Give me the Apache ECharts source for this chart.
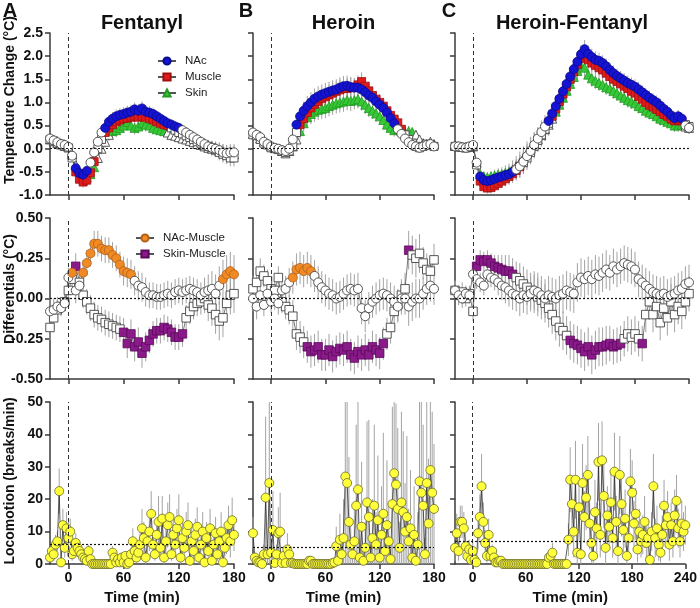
<!DOCTYPE html>
<html><head><meta charset="utf-8">
<script src="https://cdn.jsdelivr.net/npm/echarts/dist/echarts.min.js"></script>
<style>html,body{margin:0;padding:0;background:#fff}#c{width:700px;height:608px}</style>
</head><body><div id="c"></div>
<script>
// ---------- layout labels ----------
const panelTitles = ['Fentanyl', 'Heroin', 'Heroin-Fentanyl'];
const panelLetters = ['A', 'B', 'C'];
const rowNames = ['Temperature Change (°C)', 'Differentials (°C)', 'Locomotion (breaks/min)'];
const xMaxes = [180, 180, 240];
const xTicksAB = [0, 60, 120, 180];
const xTicksC = [0, 60, 120, 180, 240];
const tStart = -20;
const tempStep = 4;
const locoStep = 2;
const locoBaseline = [6.2, 5.3, 7.1];

// ---------- Temperature change (°C), every 4 min from -20 ----------
const tempA_NAc = [0.22,0.18,0.14,0.10,0.08, 0.04,-0.15,-0.42,-0.53,-0.56, -0.48,-0.30,-0.08,0.15,0.35, 0.45,0.58,0.65,0.70,0.73,
  0.75,0.78,0.80,0.85,0.82, 0.87,0.80,0.78,0.75,0.70, 0.65,0.60,0.55,0.52,0.48, 0.45,0.40,0.35,0.30,0.25,
  0.20,0.15,0.10,0.05,0.02, 0.00,-0.03,-0.08,-0.10,-0.08, -0.08];
const tempA_Muscle = [0.20,0.17,0.12,0.10,0.06, 0.02,-0.20,-0.50,-0.66,-0.72, -0.68,-0.52,-0.28,0.00,0.20, 0.35,0.45,0.52,0.58,0.62,
  0.65,0.66,0.68,0.70,0.68, 0.70,0.68,0.65,0.62,0.58, 0.55,0.52,0.50,0.45,0.40, 0.35,0.32,0.28,0.24,0.20,
  0.15,0.12,0.08,0.05,0.02, -0.02,-0.08,-0.12,-0.15,-0.20, -0.20];
const tempA_Skin = [0.20,0.16,0.12,0.09,0.06, 0.03,-0.12,-0.35,-0.50,-0.60, -0.62,-0.55,-0.40,-0.20,0.00, 0.15,0.30,0.38,0.40,0.45,
  0.50,0.58,0.50,0.45,0.48, 0.55,0.52,0.50,0.45,0.42, 0.40,0.38,0.35,0.30,0.28, 0.25,0.22,0.20,0.17,0.14,
  0.10,0.08,0.05,0.02,0.00, -0.02,-0.05,-0.08,-0.10,-0.12, -0.12];
const tempA_SEM = [0.08,0.08,0.07,0.07,0.06, 0.05,0.08,0.10,0.12,0.12, 0.12,0.12,0.12,0.12,0.12, 0.13,0.14,0.14,0.15,0.15,
  0.15,0.15,0.15,0.15,0.15, 0.15,0.15,0.14,0.14,0.13, 0.13,0.12,0.12,0.12,0.12, 0.12,0.12,0.12,0.12,0.12,
  0.12,0.12,0.13,0.14,0.15, 0.16,0.17,0.18,0.18,0.18, 0.18];
const sigA_NAc = [[8, 20], [40, 120]];
const sigA_Muscle = [[8, 28], [40, 108]];
const sigA_Skin = [[20, 28], [48, 104]];

const tempB_NAc = [0.35,0.30,0.25,0.15,0.10, 0.05,0.02,0.00,-0.03,-0.05, 0.00,0.20,0.52,0.70,0.82, 0.92,1.00,1.08,1.13,1.17,
  1.20,1.23,1.26,1.28,1.32, 1.35,1.36,1.33,1.32,1.32, 1.28,1.22,1.15,1.10,1.02, 0.95,0.88,0.78,0.66,0.55,
  0.42,0.32,0.22,0.14,0.08, 0.05,0.02,0.05,0.08,0.10, 0.05];
const tempB_Muscle = [0.30,0.28,0.20,0.12,0.08, 0.02,0.00,-0.02,-0.05,-0.08, -0.05,0.05,0.35,0.52,0.65, 0.78,0.88,0.96,1.02,1.08,
  1.12,1.16,1.20,1.24,1.27, 1.30,1.30,1.32,1.33,1.38, 1.45,1.35,1.25,1.15,1.07, 1.00,0.92,0.82,0.72,0.64,
  0.56,0.42,0.30,0.20,0.12, 0.05,0.02,0.05,0.10,0.08, 0.05];
const tempB_Skin = [0.32,0.30,0.22,0.15,0.10, 0.05,0.02,0.00,-0.05,-0.10, -0.05,0.05,0.20,0.38,0.55, 0.68,0.75,0.80,0.84,0.86,
  0.88,0.92,0.95,0.98,1.00, 1.02,1.05,1.03,1.05,1.07, 1.02,0.95,0.88,0.82,0.76, 0.70,0.62,0.52,0.45,0.40,
  0.42,0.38,0.36,0.38,0.36, 0.30,0.20,0.12,0.10,0.15, 0.10];
const tempB_SEM = [0.10,0.10,0.09,0.08,0.08, 0.07,0.07,0.07,0.08,0.08, 0.08,0.10,0.14,0.18,0.20, 0.22,0.22,0.22,0.22,0.22,
  0.22,0.22,0.22,0.22,0.22, 0.22,0.22,0.22,0.20,0.20, 0.20,0.20,0.20,0.18,0.18, 0.18,0.18,0.16,0.15,0.14,
  0.13,0.12,0.12,0.11,0.10, 0.10,0.09,0.09,0.09,0.09, 0.09];
const sigB_NAc = [[28, 136]];
const sigB_Muscle = [[32, 144]];
const sigB_Skin = [[32, 156]];

const tempC_NAc = [0.05,0.05,0.03,0.02,0.05, 0.08,-0.30,-0.60,-0.68,-0.70, -0.68,-0.65,-0.62,-0.60,-0.57, -0.55,-0.50,-0.45,-0.38,-0.28,
  -0.16,-0.05,0.08,0.22,0.36, 0.48,0.60,0.76,0.92,1.08, 1.24,1.40,1.56,1.72,1.88, 2.04,2.15,2.05,1.98,1.92,
  1.90,1.85,1.78,1.70,1.63, 1.57,1.52,1.47,1.42,1.38, 1.34,1.28,1.22,1.16,1.10, 1.05,1.00,0.93,0.86,0.80,
  0.72,0.66,0.70,0.65,0.50, 0.45];
const tempC_Muscle = [0.05,0.04,0.03,0.02,0.04, 0.05,-0.35,-0.70,-0.82,-0.85, -0.84,-0.80,-0.75,-0.70,-0.65, -0.60,-0.54,-0.47,-0.39,-0.30,
  -0.20,-0.08,0.05,0.18,0.30, 0.42,0.55,0.70,0.86,1.02, 1.18,1.34,1.50,1.66,1.82, 1.95,2.02,1.92,1.85,1.80,
  1.75,1.70,1.63,1.56,1.50, 1.45,1.40,1.35,1.30,1.24, 1.20,1.13,1.07,1.00,0.94, 0.90,0.85,0.80,0.74,0.70,
  0.64,0.60,0.62,0.60,0.52, 0.48];
const tempC_Skin = [0.06,0.05,0.04,0.03,0.04, 0.05,-0.30,-0.55,-0.60,-0.62, -0.60,-0.58,-0.56,-0.55,-0.52, -0.50,-0.45,-0.38,-0.30,-0.20,
  -0.10,0.00,0.10,0.20,0.30, 0.42,0.52,0.65,0.80,0.95, 1.10,1.25,1.40,1.55,1.68, 1.80,1.75,1.60,1.52,1.47,
  1.42,1.38,1.33,1.30,1.25, 1.20,1.15,1.10,1.05,1.02, 0.98,0.92,0.88,0.82,0.78, 0.75,0.70,0.65,0.62,0.58,
  0.55,0.50,0.50,0.52,0.48, 0.45];
const tempC_SEM = [0.06,0.06,0.06,0.05,0.05, 0.06,0.10,0.12,0.12,0.12, 0.12,0.13,0.14,0.15,0.16, 0.18,0.20,0.22,0.24,0.25,
  0.26,0.26,0.26,0.25,0.25, 0.25,0.24,0.24,0.23,0.22, 0.22,0.22,0.20,0.20,0.20, 0.20,0.20,0.18,0.18,0.18,
  0.17,0.17,0.17,0.17,0.17, 0.16,0.16,0.16,0.16,0.16, 0.16,0.16,0.15,0.15,0.15, 0.15,0.15,0.15,0.14,0.14,
  0.14,0.14,0.14,0.14,0.13, 0.13];
const sigC_NAc = [[8, 44], [84, 232]];
const sigC_Muscle = [[8, 52], [88, 232]];
const sigC_Skin = [[8, 40], [92, 232]];

// ---------- Differentials (°C), every 4 min from -20 ----------
const diffA_NAcM = [-0.08,-0.07,-0.05,-0.06,-0.03, 0.13,0.16,0.05,0.08,0.16, 0.22,0.28,0.34,0.34,0.31, 0.30,0.30,0.27,0.25,0.21,
  0.17,0.16,0.15,0.11,0.08, 0.07,0.04,0.02,0.02,0.01, 0.01,0.02,0.03,0.02,0.04, 0.05,0.04,0.05,0.06,0.05,
  0.04,0.02,0.04,0.05,0.06, 0.03,0.08,0.12,0.15,0.17, 0.15];
const diffA_SkinM = [-0.18,-0.12,-0.07,-0.05,-0.02, 0.05,0.12,0.20,0.10,0.02, -0.02,-0.06,-0.10,-0.12,-0.13, -0.15,-0.16,-0.17,-0.18,-0.19,
  -0.21,-0.28,-0.22,-0.30,-0.27, -0.34,-0.30,-0.26,-0.22,-0.20, -0.20,-0.18,-0.19,-0.21,-0.24, -0.24,-0.22,-0.12,-0.08,-0.05,
  -0.03,-0.02,0.00,-0.04,-0.06, -0.10,-0.14,-0.12,-0.03,0.02, 0.03];
const diffA_SEM = [0.08,0.07,0.06,0.05,0.05, 0.06,0.07,0.08,0.08,0.08, 0.08,0.08,0.08,0.08,0.08, 0.08,0.08,0.08,0.08,0.08,
  0.09,0.09,0.09,0.09,0.09, 0.09,0.09,0.08,0.08,0.08, 0.08,0.08,0.08,0.08,0.08, 0.08,0.08,0.08,0.08,0.08,
  0.08,0.08,0.09,0.10,0.11, 0.12,0.12,0.12,0.12,0.12, 0.12];
const sigA_NAcM = [[4, 4], [16, 68], [168, 180]];
const sigA_SkinM = [[8, 8], [60, 124]];

const diffB_NAcM = [0.00,-0.05,0.02,-0.04,0.03, -0.02,0.00,-0.03,0.05,0.06, 0.10,0.13,0.18,0.19,0.17, 0.19,0.17,0.14,0.10,0.07,
  0.05,0.03,0.02,0.00,0.01, 0.03,0.05,0.06,0.05,0.06, -0.06,-0.11,-0.06,-0.02,0.00, 0.02,0.03,0.02,0.00,-0.02,
  -0.05,0.00,0.00,-0.05,-0.02, 0.00,0.00,0.03,0.06,0.08, 0.06];
const diffB_SkinM = [0.06,0.10,0.17,0.14,0.11, 0.06,0.05,0.13,-0.02,-0.05, -0.07,-0.11,-0.22,-0.24,-0.27, -0.30,-0.33,-0.32,-0.30,-0.35,
  -0.35,-0.32,-0.36,-0.33,-0.31, -0.32,-0.30,-0.35,-0.37,-0.33, -0.35,-0.32,-0.35,-0.30,-0.32, -0.34,-0.28,-0.22,-0.18,-0.08,
  -0.04,0.02,0.06,0.30,0.27, 0.25,0.28,0.22,0.18,0.17, 0.24];
const diffB_SEM = [0.08,0.08,0.08,0.07,0.07, 0.07,0.07,0.07,0.07,0.08, 0.09,0.10,0.10,0.10,0.10, 0.10,0.10,0.10,0.10,0.10,
  0.10,0.10,0.10,0.10,0.10, 0.10,0.10,0.10,0.10,0.10, 0.10,0.10,0.10,0.10,0.10, 0.10,0.10,0.10,0.10,0.10,
  0.10,0.10,0.10,0.12,0.12, 0.12,0.12,0.10,0.10,0.10, 0.10];
const sigB_NAcM = [[24, 44]];
const sigB_SkinM = [[40, 124], [152, 152]];

const diffC_NAcM = [0.05,0.02,0.00,0.03,0.02, 0.15,0.12,0.10,0.08,0.15, 0.13,0.12,0.10,0.08,0.07, 0.05,0.03,0.02,0.00,0.02,
  0.01,0.03,0.05,0.04,0.02, 0.00,0.02,0.01,0.00,0.02, 0.03,0.05,0.04,0.03,0.10, 0.13,0.12,0.14,0.12,0.15,
  0.14,0.16,0.18,0.16,0.20, 0.18,0.20,0.22,0.21,0.20, 0.18,0.12,0.10,0.08,0.06, 0.04,0.03,0.02,0.03,0.01,
  0.02,0.03,0.05,0.06,0.09, 0.10];
const diffC_SkinM = [0.05,0.02,0.04,0.00,0.03, -0.08,0.20,0.24,0.23,0.24, 0.22,0.20,0.19,0.18,0.17, 0.17,0.15,0.13,0.11,0.09,
  0.07,0.05,0.03,0.01,-0.01, -0.03,-0.06,-0.10,-0.14,-0.18, -0.20,-0.23,-0.26,-0.28,-0.29, -0.31,-0.33,-0.30,-0.35,-0.32,
  -0.30,-0.30,-0.29,-0.28,-0.30, -0.29,-0.28,-0.25,-0.22,-0.24, -0.22,-0.25,-0.28,-0.10,-0.02, -0.10,-0.05,-0.15,-0.06,-0.12,
  -0.02,-0.10,-0.05,-0.08,-0.02, 0.03];
const diffC_SEM = [0.06,0.06,0.06,0.05,0.05, 0.06,0.06,0.06,0.06,0.06, 0.06,0.07,0.08,0.09,0.10, 0.10,0.10,0.10,0.11,0.11,
  0.11,0.11,0.12,0.12,0.12, 0.12,0.12,0.12,0.12,0.12, 0.12,0.12,0.12,0.12,0.12, 0.12,0.12,0.12,0.12,0.12,
  0.12,0.12,0.12,0.11,0.11, 0.11,0.11,0.11,0.11,0.11, 0.11,0.11,0.11,0.11,0.11, 0.11,0.11,0.11,0.11,0.11,
  0.11,0.11,0.11,0.11,0.11, 0.11];
const sigC_NAcM = [];
const sigC_SkinM = [[4, 44], [108, 164], [188, 188]];

// ---------- Locomotion (breaks/min), every 2 min from -20 ----------
const locoA = [2,4,3,6,7,22.5,0.5,12,5,11,
  8,10,3,4,6.5,5,4,3,2,1.5,
  1,4,1.5,0,0,0,0,0,0,0,
  0,0,0,0,3.5,2,0.5,1.5,0.5,2,
  0.5,2.5,0,0.5,3,7,4,2,3.5,6,
  11,8,2,7,10,15.5,6,3,9,13,
  5,14,2,7,12,14.5,3,9,6,11,
  13.5,2,8,5,10,12,1,7,4,9,
  11.5,2,6,10,0.5,8,4,11,1,6,
  9.5,3,7,10,0.5,5,8,12,7,13.5,
  9];
const locoA_SEM = [1.5,2,2,3,3,7,1,5,3,5,
  5,4,2,2,3,2,2,2,1,1,
  1,2,1,0,0,0,0,0,0,0,
  0,0,0,0,2,1,0.5,1,0.5,1,
  0.5,1.5,0,0.5,2,4,2,1.5,2,4,
  6,5,2,4,6,7,4,2,5,8,
  4,7,2,5,7,7,2,6,4,6,
  8,2,5,3,6,7,1,5,3,5,
  6,2,4,6,0.5,5,3,6,1,4,
  5,2,4,6,0.5,3,5,6,5,7,
  5];
const locoB = [9.5,2,1,0.5,0.5,0,3,20.5,3,25,
  3.5,10.5,0.3,3,9.5,10,0.3,2.5,0.3,4.5,
  3,0.3,0.3,0,0,0,0,0,0,0,
  0,1,1,0,0,0,0,0,0,0,
  0,0,0,0,0.3,0.5,5.5,1,7.5,3,
  8,27,25,13,6,3,7,18,23,2,
  11.5,1,5,19,14.5,2,8,18,6,13.5,
  2,9,15.5,4,12,7,1.5,18.5,28,24.5,
  17,5,19,16,10,14.5,7,11,2,9,
  1,6,25.5,22,18,3,25,12.5,29,22,
  17];
const locoB_SEM = [5,1,1,1,1,0,3,25,3,30,
  3,12,0.5,3,8,12,0.5,3,0.5,5,
  3,0.5,0.5,0,0,0,0,0,0,0,
  0,1,1,0,0,0,0,0,0,0,
  0,0,0,0,0.5,0.5,6,1,8,4,
  12,30,25,20,8,5,10,25,28,3,
  20,2,8,25,30,4,12,25,10,20,
  4,15,25,6,20,12,3,30,30,25,
  25,8,28,25,15,25,10,18,4,15,
  2,10,30,28,25,5,30,20,30,25,
  20];
const locoC = [5,9.5,4,13,13,11,5.5,2.4,4.5,1.3,
  4,1.3,0.5,9.5,14.5,24,13,6.5,2.5,9,
  2.5,4,2,0.5,0.5,1,1,0,0,0,
  0,0,0,0,0,0,0,0,0,0,
  0,0,0,0,0,0,0,0,0,0,
  0,0,0,2,2.5,3.5,0,0,0,0,
  0,0,0,0,7.5,26,18.5,10,26,3.5,
  17.5,3,25,14.5,20.5,27.5,12.5,6.5,2.5,16,
  11,31.5,9,32,21,5,15,11.5,19,8,
  28.5,13,4,27.5,18.5,10.5,14,2.5,8,25.5,
  22,12.5,15.5,4.5,10,7,9,13,6.5,8,
  1.3,10,24,8,11,6,3.5,9,18,12,
  14.5,6,12,7,15,19.5,11,7,12.5,10,
  12];
const locoC_SEM = [4,6,3,5,5,5,4,2,3,1,
  3,1,0.5,5,7,10,6,4,2,5,
  2,2,1.5,0.5,0.5,1,1,0,0,0,
  0,0,0,0,0,0,0,0,0,0,
  0,0,0,0,0,0,0,0,0,0,
  0,0,0,1.5,2,3,0,0,0,0,
  0,0,0,0,5,10,8,8,12,4,
  8,4,12,8,10,12,8,6,3,10,
  8,12,7,12,10,5,9,7,10,6,
  12,8,4,12,10,7,9,3,6,10,
  10,7,8,4,7,5,6,8,5,6,
  2,6,10,6,7,5,3,6,8,7,
  8,5,7,5,8,8,6,5,7,6,
  6];

// ---------- styles ----------
const FONT = 'Liberation Sans, Arial, Helvetica, sans-serif';
const C_NAc = '#1414d2', C_Mus = '#e01b1b', C_Skin = '#36c836';
const C_NAcM = '#f08a24', C_SkinM = '#8a1a8a', C_Loco = '#ffff3a';
const cols = [{ left: 50, width: 184 }, { left: 253, width: 181 }, { left: 455, width: 234 }];
const rows = [{ top: 33, height: 162 }, { top: 218, height: 161 }, { top: 402, height: 162 }];
const yCfg = [
  { min: -1, max: 2.5, interval: 0.5, fmt: v => v.toFixed(1) },
  { min: -0.5, max: 0.5, interval: 0.25, fmt: v => v.toFixed(2) },
  { min: 0, max: 50, interval: 10, fmt: v => String(v) }
];

function times(n, step) { const a = []; for (let i = 0; i < n; i++) a.push(tStart + i * step); return a; }
function inRanges(t, r) { return r.some(([a, b]) => t >= a && t <= b); }

function errRender(params, api) {
  const t = api.value(0), v = api.value(1), e = api.value(2);
  if (!e) return null;
  const p1 = api.coord([t, v - e]), p2 = api.coord([t, v + e]);
  const cs = params.coordSys;
  const clamp = y => Math.min(Math.max(y, cs.y), cs.y + cs.height);
  return { type: 'line', silent: true,
    shape: { x1: p1[0], y1: clamp(p1[1]), x2: p1[0], y2: clamp(p2[1]) },
    style: { stroke: '#a3a3a3', lineWidth: 1 } };
}
function errSeries(gi, vals, sems, step, extra) {
  const ts = times(vals.length, step);
  return Object.assign({ type: 'custom', xAxisIndex: gi, yAxisIndex: gi, silent: true, animation: false, z: 1,
    renderItem: errRender, encode: { x: 0, y: 1 },
    data: ts.map((t, i) => [t, vals[i], sems[i]]) }, extra || {});
}
function refMark(yRef) {
  return { markLine: { silent: true, animation: false, symbol: ['none', 'none'], label: { show: false },
    data: [
      { xAxis: 0, lineStyle: { type: [4, 3], color: '#333', width: 1 } },
      { yAxis: yRef, lineStyle: { type: [2, 2], color: '#111', width: 1.2 } }
    ] } };
}
function markerSeries(name, gi, vals, step, ranges, color, border, symbol, size) {
  const ts = times(vals.length, step);
  return { type: 'line', name, xAxisIndex: gi, yAxisIndex: gi, symbol, symbolSize: size,
    showSymbol: true, showAllSymbol: true, animation: false, silent: true, z: 3,
    lineStyle: { color: '#555', width: 0.8 },
    itemStyle: { color, borderColor: border, borderWidth: 0.8 },
    data: ts.map((t, i) => ({ value: [t, vals[i]],
      itemStyle: inRanges(t, ranges) ? { color, borderColor: border, borderWidth: 0.8 }
                                     : { color: '#fff', borderColor: '#444', borderWidth: 0.9 } })) };
}
function locoSeries(gi, vals) {
  const ts = times(vals.length, locoStep);
  return { type: 'line', name: 'Locomotion', xAxisIndex: gi, yAxisIndex: gi, symbol: 'circle', symbolSize: 9,
    showSymbol: true, showAllSymbol: true, animation: false, silent: true, z: 3,
    lineStyle: { color: '#1a1a1a', width: 0.7 },
    itemStyle: { color: C_Loco, borderColor: '#6a6a30', borderWidth: 0.8 },
    data: ts.map((t, i) => [t, vals[i]]) };
}

const grids = [], xAxes = [], yAxes = [], series = [];
for (let r = 0; r < 3; r++) {
  for (let c = 0; c < 3; c++) {
    const gi = r * 3 + c;
    grids.push({ left: cols[c].left, width: cols[c].width, top: rows[r].top, height: rows[r].height });
    const ticks = c === 2 ? xTicksC : xTicksAB;
    xAxes.push({ type: 'value', gridIndex: gi, min: tStart, max: xMaxes[c],
      axisLine: { onZero: false, lineStyle: { color: '#3a3a3a', width: 1.5 } },
      axisTick: { show: true, customValues: ticks, length: 5, lineStyle: { color: '#3a3a3a', width: 1.5 } },
      axisLabel: { show: r === 2, customValues: ticks, margin: 7, fontFamily: FONT, fontWeight: 'bold', fontSize: 14, color: '#111' },
      splitLine: { show: false },
      name: r === 2 ? 'Time (min)' : '', nameLocation: 'middle', nameGap: 26,
      nameTextStyle: { fontFamily: FONT, fontWeight: 'bold', fontSize: 15, color: '#111' } });
    const y = yCfg[r];
    yAxes.push({ type: 'value', gridIndex: gi, min: y.min, max: y.max, interval: y.interval,
      axisLine: { show: true, onZero: false, lineStyle: { color: '#3a3a3a', width: 1.5 } },
      axisTick: { show: true, length: 5, lineStyle: { color: '#3a3a3a', width: 1.5 } },
      axisLabel: { show: c === 0, margin: 7, formatter: y.fmt, fontFamily: FONT, fontWeight: 'bold', fontSize: 14, color: '#111' },
      splitLine: { show: false } });
  }
}

// Row 0: temperatures
const tempSets = [
  [tempA_NAc, tempA_Muscle, tempA_Skin, tempA_SEM, sigA_NAc, sigA_Muscle, sigA_Skin],
  [tempB_NAc, tempB_Muscle, tempB_Skin, tempB_SEM, sigB_NAc, sigB_Muscle, sigB_Skin],
  [tempC_NAc, tempC_Muscle, tempC_Skin, tempC_SEM, sigC_NAc, sigC_Muscle, sigC_Skin]
];
tempSets.forEach((s, c) => {
  const gi = c;
  series.push(errSeries(gi, s[2], s[3], tempStep, refMark(0)));
  series.push(errSeries(gi, s[1], s[3], tempStep));
  series.push(errSeries(gi, s[0], s[3], tempStep));
  series.push(markerSeries('Skin', gi, s[2], tempStep, s[6], C_Skin, '#229922', 'triangle', 9));
  series.push(markerSeries('Muscle', gi, s[1], tempStep, s[5], C_Mus, '#a01010', 'rect', 8));
  series.push(markerSeries('NAc', gi, s[0], tempStep, s[4], C_NAc, '#0a0a90', 'circle', 9));
});
// Row 1: differentials
const diffSets = [
  [diffA_NAcM, diffA_SkinM, diffA_SEM, sigA_NAcM, sigA_SkinM],
  [diffB_NAcM, diffB_SkinM, diffB_SEM, sigB_NAcM, sigB_SkinM],
  [diffC_NAcM, diffC_SkinM, diffC_SEM, sigC_NAcM, sigC_SkinM]
];
diffSets.forEach((s, c) => {
  const gi = 3 + c;
  series.push(errSeries(gi, s[1], s[2], tempStep, refMark(0)));
  series.push(errSeries(gi, s[0], s[2], tempStep));
  series.push(markerSeries('Skin-Muscle', gi, s[1], tempStep, s[4], C_SkinM, '#5a0a5a', 'rect', 8.5));
  series.push(markerSeries('NAc-Muscle', gi, s[0], tempStep, s[3], C_NAcM, '#b0601a', 'circle', 9));
});
// Row 2: locomotion
[[locoA, locoA_SEM], [locoB, locoB_SEM], [locoC, locoC_SEM]].forEach((s, c) => {
  const gi = 6 + c;
  series.push(errSeries(gi, s[0], s[1], locoStep, refMark(locoBaseline[c])));
  series.push(locoSeries(gi, s[0]));
});

const graphics = [];
panelTitles.forEach((t, c) => {
  graphics.push({ type: 'text', x: cols[c].left + cols[c].width / 2, y: 23, silent: true,
    style: { text: t, font: 'bold 20px ' + FONT, fill: '#111', textAlign: 'center', textVerticalAlign: 'middle' } });
});
const letterX = [10, 246, 449];
panelLetters.forEach((t, c) => {
  graphics.push({ type: 'text', x: letterX[c], y: 11, silent: true,
    style: { text: t, font: 'bold 20px ' + FONT, fill: '#111', textAlign: 'center', textVerticalAlign: 'middle' } });
});
const nameY = [100, 289, 481];
rowNames.forEach((t, r) => {
  graphics.push({ type: 'text', x: 10, y: nameY[r], rotation: Math.PI / 2, silent: true,
    style: { text: t, font: 'bold 14px ' + FONT, fill: '#111', textAlign: 'center', textVerticalAlign: 'middle' } });
});

const chart = echarts.init(document.getElementById('c'), null, { renderer: 'canvas' });
chart.setOption({
  animation: false,
  backgroundColor: '#fff',
  grid: grids, xAxis: xAxes, yAxis: yAxes, series,
  legend: [
    { data: ['NAc', 'Muscle', 'Skin'], orient: 'vertical', left: 152, top: 50, itemGap: 4,
      itemWidth: 18, itemHeight: 9, selectedMode: false,
      textStyle: { fontFamily: FONT, fontSize: 11.5, color: '#222', padding: [0, 0, 0, 4] } },
    { data: ['NAc-Muscle', 'Skin-Muscle'], orient: 'vertical', left: 130, top: 227, itemGap: 4,
      itemWidth: 18, itemHeight: 9, selectedMode: false,
      textStyle: { fontFamily: FONT, fontSize: 11.5, color: '#222', padding: [0, 0, 0, 4] } }
  ],
  graphic: graphics
});
</script></body></html>
